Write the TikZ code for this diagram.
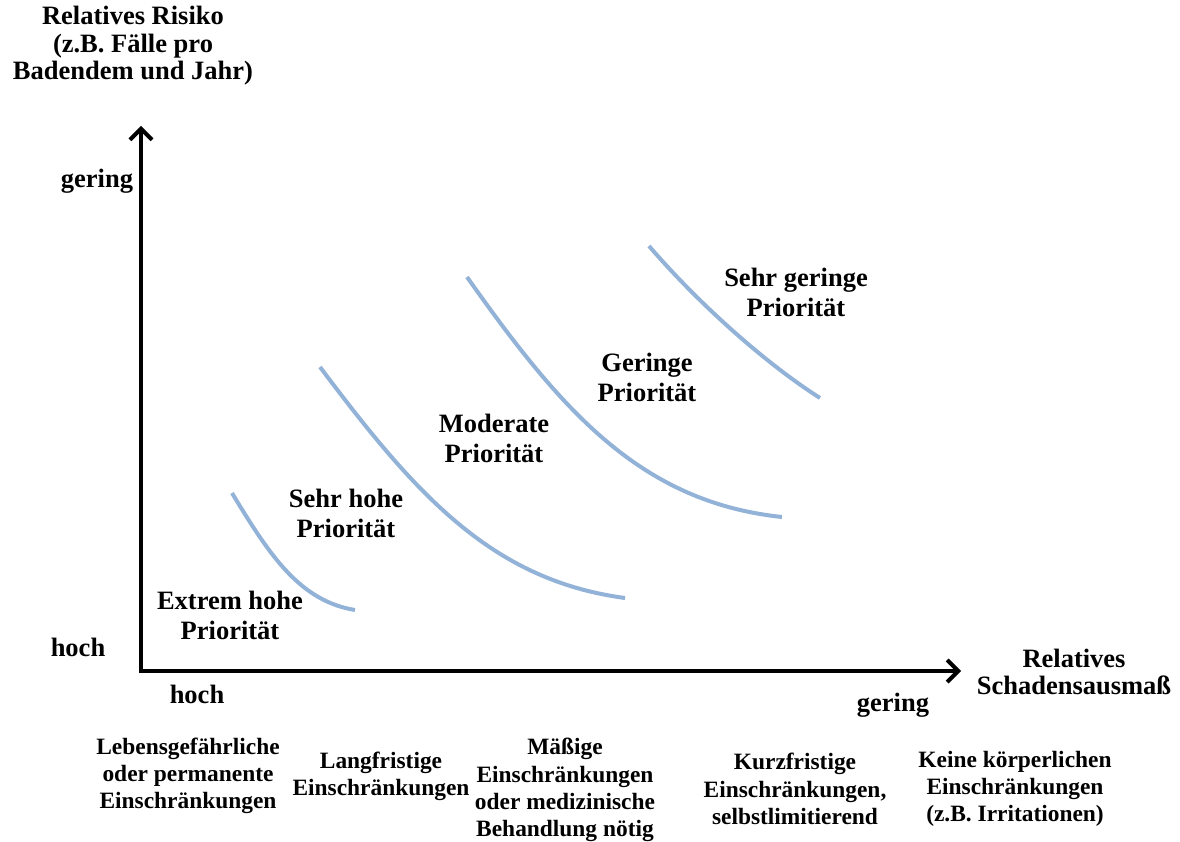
\documentclass[tikz,border=0pt]{standalone}
\usepackage{fontspec}
\setmainfont{Liberation Serif}[BoldFont={Liberation Serif Bold}]
\newfontfamily\tbold{Liberation Serif Bold}
\usetikzlibrary{arrows.meta}
\definecolor{curveblue}{RGB}{146,178,216}
\begin{document}
\begin{tikzpicture}[x=1pt,y=-1pt,
  lbl/.style={font=\tbold\fontsize{26.5}{30}\selectfont, align=center, inner sep=0pt},
  ttl/.style={font=\tbold\fontsize{26.5}{27.5}\selectfont, align=center, inner sep=0pt},
  sub/.style={font=\tbold\fontsize{23.4}{27.3}\selectfont, align=center, inner sep=0pt},
  axisline/.style={line width=4pt, line join=miter, {Straight Barb[length=11pt,width=22pt]}-{Straight Barb[length=11pt,width=22pt]}},
  curve/.style={curveblue, line width=4pt, line cap=butt}]
\useasboundingbox (0,0) rectangle (1180,842);
% axes
\coordinate (o) at (141,671);
\coordinate (ytip) at (141,126);
\coordinate (xtip) at (961,671);
\draw[axisline] (ytip) -- (o) -- (xtip);
% curves
\draw[curve] (232,493) .. controls (270,556) and (300,601) .. (355,610);
\draw[curve] (320,367) .. controls (414,492) and (490,580) .. (625,598);
\draw[curve] (467,277) .. controls (561,410) and (640,502) .. (782,517);
\draw[curve] (649,246) .. controls (699,304) and (765,363) .. (820,398);
% axis labels
\node[ttl] (title) at (133,46) {Relatives Risiko\\(z.B. Fälle pro\\Badendem und Jahr)};
\node[lbl] (ylow) at (97,181) {gering};
\node[lbl] (yhigh) at (78,647) {hoch};
\node[lbl] (xhigh) at (197,694) {hoch};
\node[lbl] (xlow) at (893,705) {gering};
\node[ttl] (xtitle) at (1074,672) {Relatives\\Schadensausmaß};
% priorities
\node[lbl] (p1) at (230,615) {Extrem hohe\\Priorität};
\node[lbl] (p2) at (346,513) {Sehr hohe\\Priorität};
\node[lbl] (p3) at (494,438) {Moderate\\Priorität};
\node[lbl] (p4) at (647,377) {Geringe\\Priorität};
\node[lbl] (p5) at (796,292) {Sehr geringe\\Priorität};
% bottom categories
\node[sub] (c1) at (188,776) {Lebensgefährliche\\oder permanente\\Einschränkungen};
\node[sub] (c2) at (381,776) {Langfristige\\Einschränkungen};
\node[sub] (c3) at (565,790) {Mäßige\\Einschränkungen\\oder medizinische\\Behandlung nötig};
\node[sub] (c4) at (795,789) {Kurzfristige\\Einschränkungen,\\selbstlimitierend};
\node[sub] (c5) at (1015,789) {Keine körperlichen\\Einschränkungen\\(z.B. Irritationen)};
\end{tikzpicture}
\end{document}
